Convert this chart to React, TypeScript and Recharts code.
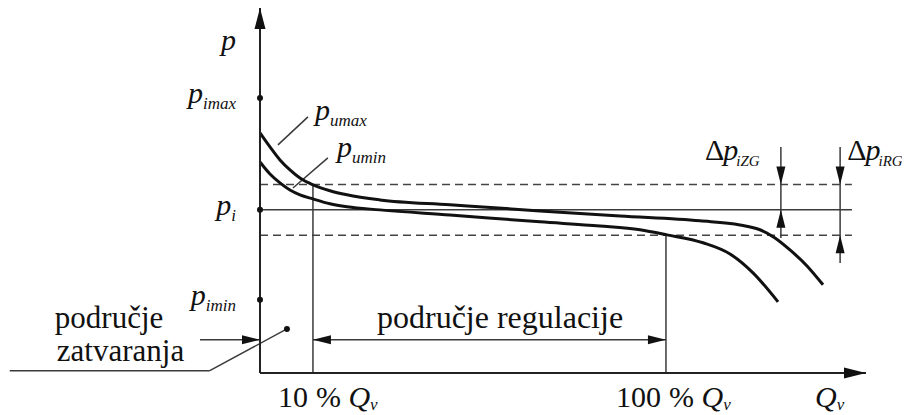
import { ComposedChart, Line, ReferenceDot, ReferenceLine, XAxis, YAxis } from 'recharts';

// flow Q in % of nominal, pressure p relative to p_i (one unit = half the regulation band)
const qDomain = [-3.5, 151];
const pDomain = [-6.4, 7.92];

const umaxQ = [-3.51, -0.96, 1.59, 4.14, 6.69, 10, 14.33, 18.67, 27.08, 44.93, 67.88, 88.28, 108.67, 118.87, 123.97, 127.8, 131.62, 135.96, 140.04];
const umaxP = [3.02, 2.47, 1.96, 1.57, 1.25, 0.98, 0.75, 0.59, 0.39, 0.2, -0.04, -0.24, -0.43, -0.59, -0.78, -1.1, -1.57, -2.2, -2.94];

const uminQ = [-3.51, -0.96, 1.59, 4.14, 6.69, 10, 14.33, 18.67, 27.08, 44.93, 67.88, 83.18, 93.38, 100.26, 109.44, 116.33, 122.19, 128.57];
const uminP = [1.88, 1.41, 1.06, 0.78, 0.59, 0.43, 0.24, 0.12, 0, -0.2, -0.47, -0.63, -0.78, -0.98, -1.29, -1.73, -2.47, -3.61];

const xTickValues = [10, 100, 138];
const xTickNumbers = ['10', '100', ''];

const yTickValues = [6.45, 4.39, 0, -3.53];
const yTickSubs = ['', 'imax', 'i', 'imin'];

const umaxData = umaxQ.map((q, i) => ({ q, p: umaxP[i] }));
const uminData = uminQ.map((q, i) => ({ q, p: uminP[i] }));

const txt = { fontFamily: 'Liberation Serif, serif', fill: '#111' };
const INK = '#111';
const THIN = '#3a3a3a';

type Dir = 'up' | 'down' | 'left' | 'right';

function Arrow({ cx, cy, dir, len = 18, half = 4.5 }: { cx: number; cy: number; dir: Dir; len?: number; half?: number }) {
  let pts = '';
  if (dir === 'up') pts = `${cx},${cy} ${cx - half},${cy + len} ${cx + half},${cy + len}`;
  if (dir === 'down') pts = `${cx},${cy} ${cx - half},${cy - len} ${cx + half},${cy - len}`;
  if (dir === 'left') pts = `${cx},${cy} ${cx + len},${cy - half} ${cx + len},${cy + half}`;
  if (dir === 'right') pts = `${cx},${cy} ${cx - len},${cy - half} ${cx - len},${cy + half}`;
  return <polygon points={pts} fill={INK} />;
}

const arrow = (dir: Dir, len?: number, half?: number) => (props: any) => (
  <Arrow cx={props.cx} cy={props.cy} dir={dir} len={len} half={half} />
);

// italic symbol with italic subscript, left aligned at the anchor point
const symbol = (main: string, sub: string, delta = false) => (props: any) => (
  <text x={props.cx} y={props.cy} fontSize={30} style={txt}>
    {delta && <tspan>Δ</tspan>}
    <tspan fontStyle="italic" dx={delta ? -1 : 0}>{main}</tspan>
    <tspan fontStyle="italic" fontSize={delta ? 15 : 17} dx={delta ? -2 : 0} dy={6}>{sub}</tspan>
  </text>
);

const words = (label: string, anchor: 'start' | 'middle' = 'start', size = 32) => (props: any) => (
  <text x={props.cx} y={props.cy} fontSize={size} style={txt} textAnchor={anchor}>
    {label}
  </text>
);

const renderXTick = (props: any) => {
  const { x, y, index } = props;
  const num = xTickNumbers[index];
  return (
    <g>
      {num && (
        <text x={x - 5} y={y + 34} textAnchor="end" fontSize={30} style={txt}>
          {num}
        </text>
      )}
      <text x={num ? x + 3 : x} y={y + 34} fontSize={30} style={txt}>
        {num ? '% ' : ''}
        <tspan fontStyle="italic">Q</tspan>
        <tspan fontStyle="italic" fontSize={17} dy={3}>v</tspan>
      </text>
    </g>
  );
};

const renderYTick = (props: any) => {
  const { x, y, index } = props;
  return (
    <text x={x - 24} y={y + 5} textAnchor="end" fontSize={30} style={txt}>
      <tspan fontStyle="italic">p</tspan>
      {yTickSubs[index] && (
        <tspan fontStyle="italic" fontSize={17} dy={6}>{yTickSubs[index]}</tspan>
      )}
    </text>
  );
};

const dashed = { stroke: '#444', strokeWidth: 1.5, strokeDasharray: '8 5' };
const thin = { stroke: THIN, strokeWidth: 1.5 };

export default function App() {
  return (
    <div style={{ width: 902, height: 407 }}>
      <ComposedChart
        width={902}
        height={407}
        margin={{ top: 0, right: 44, bottom: 41, left: 251 }}
        style={{ overflow: 'visible' }}
      >
        <XAxis
          type="number"
          dataKey="q"
          domain={qDomain}
          allowDataOverflow
          height={1}
          ticks={xTickValues}
          tick={renderXTick}
          tickLine={false}
          tickSize={0}
          tickMargin={0}
          axisLine={{ stroke: '#222', strokeWidth: 2 }}
        />
        <YAxis
          type="number"
          dataKey="p"
          domain={pDomain}
          allowDataOverflow
          width={1}
          ticks={yTickValues}
          tick={renderYTick}
          tickLine={false}
          tickSize={0}
          tickMargin={0}
          axisLine={{ stroke: '#222', strokeWidth: 2 }}
        />

        {/* tolerance band and set point */}
        <ReferenceLine segment={[{ x: -3.5, y: 1 }, { x: 147.4, y: 1 }]} {...dashed} ifOverflow="visible" />
        <ReferenceLine segment={[{ x: -3.5, y: 0 }, { x: 147.4, y: 0 }]} {...thin} ifOverflow="visible" />
        <ReferenceLine segment={[{ x: -3.5, y: -1 }, { x: 147.4, y: -1 }]} {...dashed} ifOverflow="visible" />

        {/* 10 % and 100 % verticals */}
        <ReferenceLine segment={[{ x: 10, y: 1 }, { x: 10, y: -6.4 }]} {...thin} ifOverflow="visible" />
        <ReferenceLine segment={[{ x: 100, y: -1 }, { x: 100, y: -6.4 }]} {...thin} ifOverflow="visible" />

        {/* regulation range and closing range arrows */}
        <ReferenceLine segment={[{ x: 10, y: -5.1 }, { x: 100, y: -5.1 }]} {...thin} ifOverflow="visible" />
        <ReferenceDot x={10} y={-5.1} shape={arrow('left')} ifOverflow="visible" />
        <ReferenceDot x={100} y={-5.1} shape={arrow('right')} ifOverflow="visible" />
        <ReferenceLine segment={[{ x: -18.8, y: -5.1 }, { x: -3.5, y: -5.1 }]} {...thin} ifOverflow="visible" />
        <ReferenceDot x={-3.5} y={-5.1} shape={arrow('right')} ifOverflow="visible" />

        {/* leader for "područje zatvaranja" */}
        <ReferenceLine segment={[{ x: -67.3, y: -6.31 }, { x: -16.3, y: -6.31 }]} {...thin} ifOverflow="visible" />
        <ReferenceLine segment={[{ x: -16.3, y: -6.31 }, { x: 3.37, y: -4.67 }]} {...thin} ifOverflow="visible" />
        <ReferenceDot x={3.37} y={-4.67} r={3} fill={INK} stroke="none" ifOverflow="visible" />

        {/* Δp dimension lines */}
        <ReferenceLine segment={[{ x: 129.3, y: 2.47 }, { x: 129.3, y: -1.1 }]} {...thin} ifOverflow="visible" />
        <ReferenceDot x={129.3} y={1} shape={arrow('down')} ifOverflow="visible" />
        <ReferenceDot x={129.3} y={0} shape={arrow('up')} ifOverflow="visible" />
        <ReferenceLine segment={[{ x: 144.4, y: 2.47 }, { x: 144.4, y: -2.08 }]} {...thin} ifOverflow="visible" />
        <ReferenceDot x={144.4} y={1} shape={arrow('down')} ifOverflow="visible" />
        <ReferenceDot x={144.4} y={-1} shape={arrow('up')} ifOverflow="visible" />

        {/* curve labels leaders */}
        <ReferenceLine segment={[{ x: 8.73, y: 3.65 }, { x: 1.08, y: 2.55 }]} {...thin} ifOverflow="visible" />
        <ReferenceLine segment={[{ x: 13.8, y: 2.04 }, { x: 4.9, y: 0.86 }]} {...thin} ifOverflow="visible" />

        <Line data={umaxData} dataKey="p" type="monotone" dot={false} stroke={INK} strokeWidth={3} isAnimationActive={false} />
        <Line data={uminData} dataKey="p" type="monotone" dot={false} stroke={INK} strokeWidth={3} isAnimationActive={false} />

        {/* axis arrowheads and pressure marks */}
        <ReferenceDot x={-3.5} y={7.92} shape={arrow('up', 21, 5.5)} ifOverflow="visible" />
        <ReferenceDot x={151} y={-6.4} shape={arrow('right', 22, 5.5)} ifOverflow="visible" />
        {yTickValues.slice(1).map((v) => (
          <ReferenceDot key={v} x={-3.5} y={v} r={3} fill={INK} stroke="none" ifOverflow="visible" />
        ))}

        {/* texts */}
        <ReferenceDot x={10.5} y={3.53} shape={symbol('p', 'umax')} ifOverflow="visible" />
        <ReferenceDot x={16.1} y={2.08} shape={symbol('p', 'umin')} ifOverflow="visible" />
        <ReferenceDot x={109.95} y={1.96} shape={symbol('p', 'iZG', true)} ifOverflow="visible" />
        <ReferenceDot x={146.2} y={1.96} shape={symbol('p', 'iRG', true)} ifOverflow="visible" />
        <ReferenceDot x={57.7} y={-4.63} shape={words('područje regulacije', 'middle')} ifOverflow="visible" />
        <ReferenceDot x={-55.8} y={-4.63} shape={words('područje', 'start', 31)} ifOverflow="visible" />
        <ReferenceDot x={-55.3} y={-5.92} shape={words('zatvaranja', 'start', 31)} ifOverflow="visible" />
      </ComposedChart>
    </div>
  );
}
